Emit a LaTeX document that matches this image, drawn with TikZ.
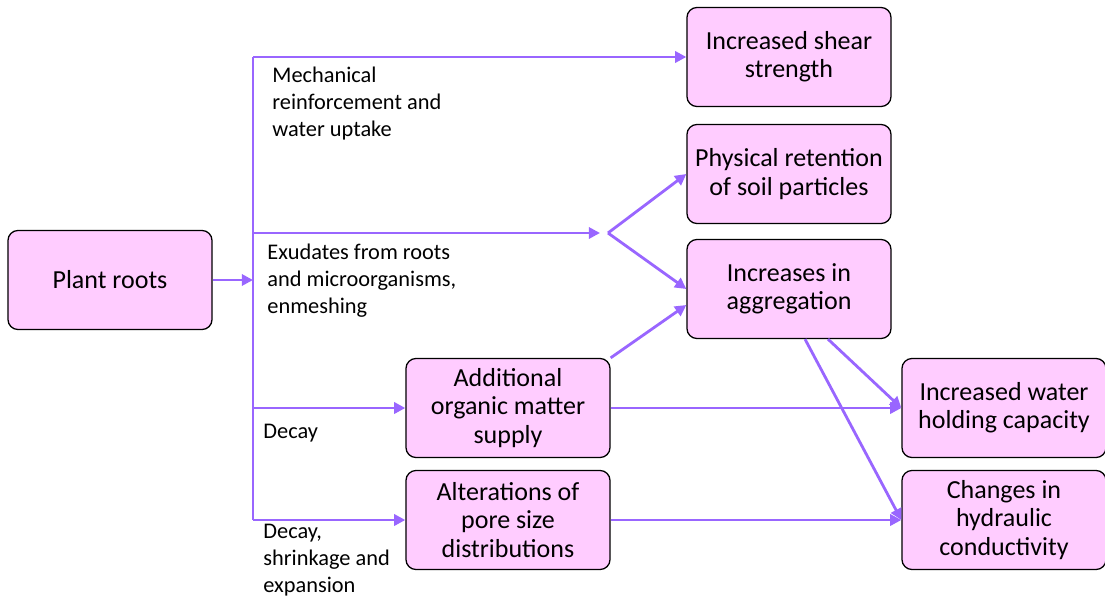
\documentclass[tikz,border=0pt]{standalone}
\usepackage{fontspec}
\setmainfont{Carlito}
\usepackage{xcolor}
\usetikzlibrary{arrows.meta}

\definecolor{boxpink}{HTML}{FFCCFF}
\definecolor{linkviolet}{HTML}{9966FF}

\begin{document}
\begin{tikzpicture}[x=0.025cm,y=-0.025cm,line width=2pt,>={Triangle[length=8pt,width=8pt]},
  effectbox/.style={draw=black,line width=0.9pt,fill=boxpink,rounded corners=0.25cm,align=center,
    minimum width=5.1cm,minimum height=2.475cm,inner sep=2pt,font=\fontsize{18.5}{20}\selectfont},
  pathlabel/.style={anchor=north west,align=left,inner sep=0pt,font=\fontsize{15.9}{19.2}\selectfont}]

\useasboundingbox (0,0) rectangle (1105,599);

% boxes
\node[effectbox] (PlantRoots) at (110,280) {Plant roots};
\node[effectbox] (ShearStrength) at (789,57) {Increased shear\\strength};
\node[effectbox] (Retention) at (789,174) {Physical retention\\of soil particles};
\node[effectbox] (Aggregation) at (789,289) {Increases in\\aggregation};
\node[effectbox] (OrganicMatter) at (508,408) {Additional\\organic matter\\supply};
\node[effectbox] (WaterHolding) at (1004,408) {Increased water\\holding capacity};
\node[effectbox] (PoreSize) at (508,520) {Alterations of\\pore size\\distributions};
\node[effectbox] (Conductivity) at (1004,520) {Changes in\\hydraulic\\conductivity};

% labels
\node[pathlabel] (LabelMechanical) at (271,66) {Mechanical\\reinforcement and\\water uptake};
\node[pathlabel] (LabelExudates) at (266,243) {Exudates from roots\\and microorganisms,\\enmeshing};
\node[pathlabel] (LabelDecay) at (262,423) {Decay};
\node[pathlabel] (LabelShrinkage) at (262,523) {Decay,\\shrinkage and\\expansion};

% trunk
\coordinate (TrunkTop) at (253,57);
\coordinate (TrunkRoots) at (253,280);
\coordinate (TrunkExudates) at (253,233);
\coordinate (TrunkDecay) at (253,408);
\coordinate (TrunkBottom) at (253,520);
\coordinate (ForkIn) at (600,233);
\coordinate (Fork) at (608,233);

\draw[draw=linkviolet] (TrunkTop) -- (TrunkBottom);
\draw[->,draw=linkviolet] (PlantRoots) to (TrunkRoots);
\draw[->,draw=linkviolet] (TrunkTop) to (ShearStrength);
\draw[->,draw=linkviolet] (TrunkExudates) to (ForkIn);
\draw[->,draw=linkviolet] (TrunkDecay) to (OrganicMatter);
\draw[->,draw=linkviolet] (TrunkBottom) to (PoreSize);

\draw[->,draw=linkviolet] (Fork) to (Retention.west);
\draw[->,draw=linkviolet] (Fork) to (Aggregation.west);
\draw[->,draw=linkviolet] (OrganicMatter.north east) to ([yshift=-0.4cm]Aggregation.west);

\draw[->,draw=linkviolet] (OrganicMatter) to (WaterHolding);
\draw[->,draw=linkviolet] (PoreSize) to (Conductivity);
\draw[->,draw=linkviolet] ([xshift=0.975cm]Aggregation.south) to (WaterHolding.west);
\draw[->,draw=linkviolet] ([xshift=0.4cm]Aggregation.south) to (Conductivity.west);

\end{tikzpicture}
\end{document}
